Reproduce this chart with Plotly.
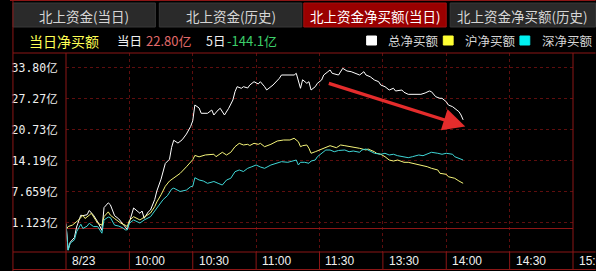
import plotly.graph_objects as go

# ---------------- data ----------------
# minutes since 09:30 (lunch break removed; 120 = 11:30/13:00, 240 = 15:00)
total_t = [0, 1, 2, 4, 5, 7, 8, 10, 11, 13, 15, 17, 18, 20, 21, 23, 25, 27, 28, 29,
           32, 33, 35, 36, 37, 39, 40, 42, 43, 45, 46, 47, 49, 50, 51, 53, 55, 57, 59, 60,
           61, 63, 64, 67, 69, 70, 72, 73, 75, 77, 79, 80, 81, 83, 84, 86, 87, 89, 91, 92,
           94, 95, 98, 99, 101, 102, 105, 108, 109, 110, 111, 112, 114, 115, 116, 118, 119, 121, 122, 124,
           125, 126, 129, 131, 133, 135, 137, 139, 141, 142, 144, 146, 148, 149, 151, 153, 155, 156, 159, 160,
           162, 164, 166, 168, 170, 172, 173, 175, 177, 178, 180, 181, 183, 184, 186, 187, 188]
total_v = [0.8, -4.6, -3.0, -2.0, 0.2, 2.7, 2.6, 2.8, 3.7, 2.7, 1.3, -0.5, 4.3, 5.3, 4.9, 2.6, 1.9, 0.8, 0.2, -0.3,
           4.22, 3.79, 3.10, 3.58, 2.04, 3.44, 3.79, 6.0, 7.8, 10.3, 12.2, 13.6, 14.5, 17.0, 18.5, 17.9, 18.6, 19.8, 21.4, 22.6,
           25.93, 25.30, 24.18, 24.18, 24.87, 23.82, 24.87, 25.23, 23.82, 25.23, 26.98, 28.73, 29.79, 29.45, 29.79, 29.51, 30.14, 30.84, 30.36, 30.84,
           29.79, 29.09, 30.14, 30.57, 31.56, 32.25, 32.25, 32.25, 32.61, 31.25, 29.45, 31.25, 30.50, 30.84, 29.09, 29.79, 30.50, 31.20, 32.25, 32.95,
           33.31, 32.61, 32.25, 33.66, 33.10, 32.95, 32.61, 32.25, 32.95, 32.25, 31.89, 31.20, 30.84, 30.14, 29.79, 29.09, 29.45, 28.88, 29.09, 28.61,
           28.18, 28.18, 28.04, 28.18, 28.46, 28.88, 28.73, 27.68, 27.34, 27.34, 26.62, 25.93, 25.57, 25.23, 24.52, 23.82, 22.80]

sh_t = [0, 1, 3, 6, 8, 9, 11, 12, 14, 15, 17, 18, 20, 21, 23, 24, 26, 28, 29, 30,
        32, 35, 37, 40, 42, 43, 45, 47, 49, 51, 54, 57, 60, 61, 63, 66, 70, 71, 73, 74,
        76, 78, 80, 82, 84, 86, 87, 89, 91, 92, 94, 97, 100, 103, 106, 108, 110, 111, 112, 114,
        115, 116, 118, 120, 122, 123, 125, 128, 130, 132, 135, 137, 139, 142, 143, 146, 147, 149, 151, 153,
        155, 157, 160, 162, 164, 167, 169, 171, 173, 176, 177, 180, 181, 184, 186, 188]
sh_v = [-0.4, 0.3, 0.6, 1.7, 2.7, 2.0, 2.7, 3.1, 1.7, 1.0, 0.6, 2.4, 3.4, 2.7, 2.0, 1.7, 1.0, 0.6, 0.3, 1.6,
        2.38, 1.69, 2.32, 3.16, 4.5, 5.5, 7.0, 8.8, 9.9, 10.5, 11.5, 12.9, 14.4, 15.3, 15.0, 15.4, 15.54, 15.03, 15.6, 15.96,
        15.39, 15.96, 17.14, 17.85, 17.50, 17.64, 17.39, 17.85, 17.64, 17.85, 17.14, 17.64, 18.34, 18.55, 18.55, 18.91, 18.19, 17.14, 17.35, 17.50,
        16.80, 15.75, 16.08, 16.44, 16.93, 17.14, 17.35, 16.93, 17.50, 17.35, 17.14, 16.97, 16.80, 16.44, 16.65, 16.08, 15.75, 15.54, 15.03, 14.33,
        14.12, 14.33, 13.85, 13.85, 13.64, 13.43, 13.28, 12.92, 12.58, 12.23, 11.53, 11.32, 10.81, 10.48, 9.91, 9.42]

sz_t = [0, 1, 2, 4, 5, 7, 8, 10, 11, 13, 15, 17, 18, 20, 21, 23, 25, 27, 28, 29,
        30, 32, 35, 37, 40, 42, 43, 45, 46, 48, 50, 51, 53, 54, 57, 59, 60, 61, 63, 65,
        67, 70, 72, 74, 76, 78, 80, 82, 84, 86, 88, 90, 92, 94, 97, 100, 102, 105, 107, 109,
        110, 111, 113, 115, 116, 118, 119, 121, 123, 125, 127, 129, 132, 134, 136, 139, 140, 142, 143, 145,
        146, 149, 151, 153, 155, 157, 160, 162, 164, 167, 169, 171, 173, 176, 178, 180, 183, 184, 186, 188]
sz_v = [1.0, -4.7, -3.2, -2.5, -0.8, 0.8, -0.1, 0.4, 1.0, 0.3, 0.3, -1.1, 1.7, 2.3, 2.2, 0.6, 0.4, 0.0, -0.4, -0.4,
        1.0, 1.69, 1.05, 1.69, 2.38, 3.6, 4.2, 5.5, 6.0, 6.8, 8.2, 8.4, 8.0, 7.7, 8.0, 8.7, 8.8, 10.6, 10.12, 9.91,
        9.42, 9.80, 9.42, 9.06, 10.12, 10.48, 11.87, 12.23, 11.91, 12.58, 12.92, 13.28, 12.86, 12.58, 13.28, 13.64, 13.98, 13.85, 14.12, 14.33,
        13.28, 13.85, 13.85, 13.64, 14.12, 14.33, 15.03, 15.75, 16.44, 16.44, 16.08, 16.34, 16.44, 16.08, 16.23, 15.96, 16.44, 16.65, 16.44, 16.08,
        15.75, 15.54, 15.75, 15.39, 15.54, 15.24, 15.03, 14.82, 15.03, 15.39, 15.24, 15.54, 15.96, 15.75, 15.54, 15.75, 15.54, 15.03, 14.69, 14.33]

x_tickvals = [0, 30, 60, 90, 120, 150, 180, 210, 240]
x_ticktext = ["8/23", "10:00", "10:30", "11:00", "11:30", "13:30", "14:00", "14:30", "15:00"]
y_tickvals = [1.123, 7.659, 14.19, 20.73, 27.27, 33.80]
y_ticktext = ["1.123亿", "7.659亿", "14.19亿", "20.73亿", "27.27亿", "33.80亿"]

series_names = ["总净买额", "沪净买额", "深净买额"]
tab_labels = ["北上资金(当日)", "北上资金(历史)", "北上资金净买额(当日)", "北上资金净买额(历史)"]
today_value = "22.80亿"
five_day_value = "-144.1亿"

# arrow (annotation) from/to, in data units
arrow_from = (123.7, 30.6)
arrow_to = (189.0, 21.4)

# ---------------- styling / layout helpers ----------------
W, H = 596, 271
PL, PR, PT, PB = 57, 573, 53, 252
X_RANGE = [0, 240]
Y_RANGE = [-5.06, 36.89]

RED = "#8c1616"
GRID = "#5e0e0e"
CJK = "Noto Sans CJK SC"


def px(x):
    return (x - PL) / (PR - PL)


def py(y):
    return (PB - y) / (PB - PT)


fig = go.Figure()
fig.add_trace(go.Scatter(x=total_t, y=total_v, mode="lines", name=series_names[0],
                         line=dict(color="#ffffff", width=1)))
fig.add_trace(go.Scatter(x=sh_t, y=sh_v, mode="lines", name=series_names[1],
                         line=dict(color="#f5f57a", width=1)))
fig.add_trace(go.Scatter(x=sz_t, y=sz_v, mode="lines", name=series_names[2],
                         line=dict(color="#3fd6d6", width=1)))

shapes = []
annotations = []


def line(x0, y0, x1, y1, color=RED, width=1):
    shapes.append(dict(type="line", xref="paper", yref="paper", x0=px(x0), y0=py(y0),
                       x1=px(x1), y1=py(y1), line=dict(color=color, width=width), layer="above"))


def rect(x0, y0, x1, y1, fill, lc=None):
    shapes.append(dict(type="rect", xref="paper", yref="paper", x0=px(x0), y0=py(y0),
                       x1=px(x1), y1=py(y1), fillcolor=fill,
                       line=dict(color=lc or fill, width=1), layer="below"))


def text(x, y, s, color, size, anchor="left", family=CJK):
    annotations.append(dict(xref="paper", yref="paper", x=px(x), y=py(y), text=s,
                            showarrow=False, xanchor=anchor, yanchor="middle",
                            font=dict(color=color, size=size, family=family)))


# tabs
tab_x = [(3, 148), (152, 297), (299, 444), (448, 596)]
for i, (a, b) in enumerate(tab_x):
    active = i == 2
    rect(a, 3, b, 27, "#9a0000" if active else "#2a2a2a", "#a01010" if active else "#383838")
    text((a + b) / 2, 15.5, tab_labels[i], "#ffffff" if active else "#d6d6d6", 13.5, "center")

# frame lines
line(0, 0.5, 596, 0.5)
line(3, 0, 3, 271)
line(3, 53, 596, 53)
line(PL, 53, PL, 270)
line(PR, 53, PR, 270)
line(3, PB, 596, PB)
line(3, 269.5, 596, 269.5)

# info row
text(17, 41, "当日净买额", "#ffff55", 14)
text(107, 41, "当日", "#f0f0f0", 12.5)
text(136, 41, today_value, "#e06a6a", 13)
text(197, 41, "5日", "#f0f0f0", 12.5)
text(219, 41, five_day_value, "#3ccf6a", 13)

# legend
leg_cols = ["#ffffff", "#ffff33", "#00f0f0"]
leg_x = [363, 441, 519]
for c, x0, n in zip(leg_cols, leg_x, series_names):
    rect(x0, 36, x0 + 10, 45, c)
    text(x0 + 20, 41, n, "#d6d6d6", 12.5)

# x labels, left aligned, with separators in label row
for tv, tt in zip(x_tickvals, x_ticktext):
    xp = PL + (PR - PL) * (tv - X_RANGE[0]) / (X_RANGE[1] - X_RANGE[0])
    if 0 < tv < 240:
        line(xp, PB, xp, 269.5)
    text(xp + 4, 261, tt, "#f0f0f0", 12, "left", "Liberation Sans, Arial")

# arrow
annotations.append(dict(xref="x", yref="y", axref="x", ayref="y",
                        x=arrow_to[0], y=arrow_to[1], ax=arrow_from[0], ay=arrow_from[1],
                        text="", showarrow=True, arrowhead=2, arrowsize=1.3,
                        arrowwidth=3.4, arrowcolor="#e42c2c"))

fig.update_layout(
    width=W, height=H,
    margin=dict(l=PL, r=W - PR, t=PT, b=H - PB, pad=0),
    paper_bgcolor="#000000", plot_bgcolor="#000000",
    showlegend=False,
    shapes=shapes, annotations=annotations,
    xaxis=dict(range=X_RANGE, tickvals=x_tickvals, showticklabels=False,
               showgrid=True, gridcolor=GRID, griddash="dot", gridwidth=1,
               zeroline=False, showline=False, ticks="", fixedrange=True),
    yaxis=dict(range=Y_RANGE, tickvals=y_tickvals, ticktext=y_ticktext,
               showgrid=True, gridcolor=GRID, griddash="dot", gridwidth=1,
               zeroline=True, zerolinecolor=RED, zerolinewidth=1,
               showline=False, ticks="outside", ticklen=5, tickcolor="rgba(0,0,0,0)",
               tickfont=dict(color="#f0f0f0", size=11.5, family="DejaVu Sans Mono, " + CJK),
               fixedrange=True),
)

fig.write_html("out.html")
